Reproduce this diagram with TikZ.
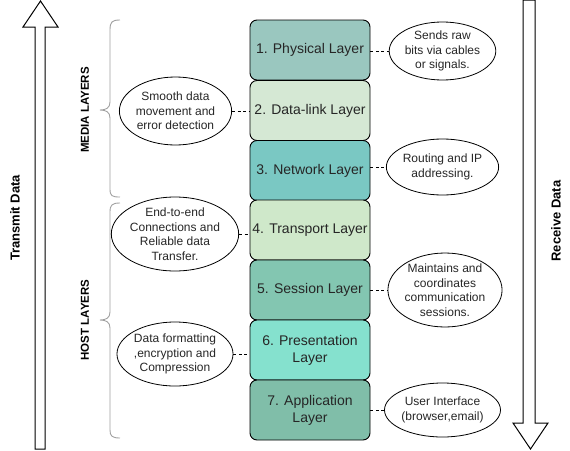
\documentclass[tikz,border=0pt]{standalone}
\usepackage{fontspec}
\setmainfont{Liberation Sans}
\usetikzlibrary{shapes.geometric}
\definecolor{cA}{HTML}{9AC7BF}
\definecolor{cB}{HTML}{D5E8D4}
\definecolor{cC}{HTML}{7AC8C3}
\definecolor{cD}{HTML}{CFE8CA}
\definecolor{cE}{HTML}{83C6B1}
\definecolor{cF}{HTML}{85E1CE}
\definecolor{cG}{HTML}{80BEA9}
\definecolor{bracegray}{HTML}{A0A0A0}
\tikzset{
  layerbox/.style={draw=black, line width=0.9pt, rounded corners=7pt, minimum width=120pt, minimum height=60pt, inner sep=0pt, align=center, font=\fontsize{14}{17}\selectfont, text=black!85},
  note/.style={draw=black, line width=0.8pt, ellipse, inner sep=0pt, align=center, font=\fontsize{12}{14.5}\selectfont, text=black!85},
  link/.style={draw=black, line width=0.7pt, dash pattern=on 3pt off 2.5pt},
  brc/.style={draw=bracegray, line width=0.9pt},
  bigarrow/.style={draw=black, line width=1pt, fill=white, line join=miter},
  vlabel/.style={rotate=90, font=\bfseries\fontsize{13}{15}\selectfont},
  glabel/.style={rotate=90, font=\bfseries\fontsize{11.5}{14}\selectfont}
}
\begin{document}
\begin{tikzpicture}[x=1pt,y=-1pt]
\useasboundingbox (0,0) rectangle (570,450);
% big arrows
\draw[bigarrow] (35,449) -- (35,27) -- (23,27) -- (40.5,1) -- (58,27) -- (45,27) -- (45,449) -- cycle;
\draw[bigarrow] (523,0) -- (523,423) -- (513,423) -- (530.5,449) -- (548,423) -- (535,423) -- (535,0) -- cycle;
\node[vlabel] (tx) at (15,218) {Transmit Data};
\node[vlabel] (rx) at (556,221) {Receive Data};
% braces
\draw[brc] (120,20) .. controls (112,20) and (110,22) .. (110,30) -- (110,102) .. controls (110,108) and (106,110) .. (100,110) .. controls (106,110) and (110,112) .. (110,118) -- (110,189) .. controls (110,196) and (112,197) .. (120,197);
\draw[brc] (120,203) .. controls (112,203) and (110,205) .. (110,212) -- (110,312) .. controls (110,318) and (106,320) .. (100,320) .. controls (106,320) and (110,322) .. (110,328) -- (110,430) .. controls (110,436) and (112,438) .. (120,438);
\node[glabel] (media) at (85,110) {MEDIA LAYERS};
\node[glabel] (host) at (85,320) {HOST LAYERS};
% layers
\node[layerbox, fill=cA] (L1) at (310,50) {1. Physical Layer};
\node[layerbox, fill=cB] (L2) at (310,110.5) {2. Data-link Layer};
\node[layerbox, fill=cC] (L3) at (310,170.5) {3. Network Layer};
\node[layerbox, fill=cD] (L4) at (310,230) {4. Transport Layer};
\node[layerbox, fill=cE] (L5) at (310,290) {5. Session Layer};
\node[layerbox, fill=cF] (L6) at (310,350) {6. Presentation\\Layer};
\node[layerbox, fill=cG] (L7) at (310,410) {7. Application\\Layer};
% notes left
\node[note, minimum width=111pt, minimum height=68pt] (N2) at (175.5,111) {Smooth data\\movement and\\error detection};
\node[note, minimum width=110pt, minimum height=70pt] (N4) at (175,234) {End-to-end\\Connections and\\Reliable data\\Transfer.};
\node[note, minimum width=110pt, minimum height=64pt] (N6) at (175,354) {Data formatting\\,encryption and\\Compression};
% notes right
\node[note, minimum width=105pt, minimum height=58pt] (N1) at (442.5,51) {Sends raw\\bits via cables\\or signals.};
\node[note, minimum width=105pt, minimum height=56pt] (N3) at (442.5,167) {Routing and IP\\addressing.};
\node[note, minimum width=110pt, minimum height=62pt] (N5) at (445,290) {Maintains and\\coordinates\\communication\\sessions.};
\node[note, minimum width=105pt, minimum height=54pt] (N7) at (442.5,410) {User Interface\\(browser,email)};
% links
\draw[link] (N2.east) -- (N2.east -| L2.west);
\draw[link] (N4.east) -- (N4.east -| L4.west);
\draw[link] (N6.east) -- (N6.east -| L6.west);
\draw[link] (N1.west -| L1.east) -- (N1.west);
\draw[link] (N3.west -| L3.east) -- (N3.west);
\draw[link] (N5.west -| L5.east) -- (N5.west);
\draw[link] (N7.west -| L7.east) -- (N7.west);
\end{tikzpicture}
\end{document}
